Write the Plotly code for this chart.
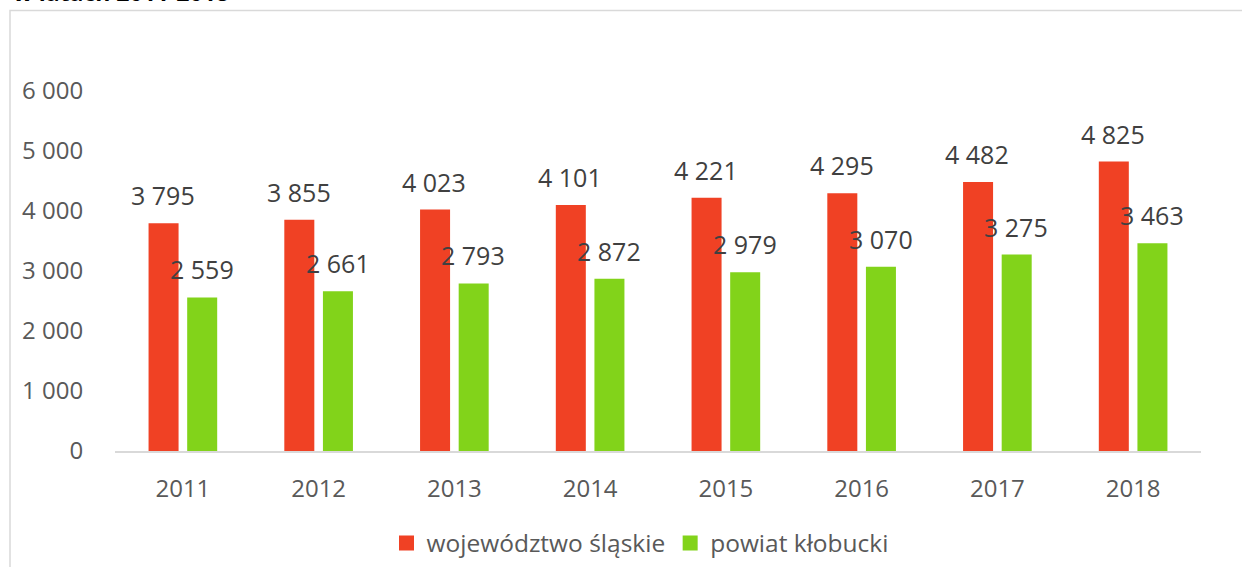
import plotly.graph_objects as go

years = ["2011", "2012", "2013", "2014", "2015", "2016", "2017", "2018"]
slaskie = [3795, 3855, 4023, 4101, 4221, 4295, 4482, 4825]
klobucki = [2559, 2661, 2793, 2872, 2979, 3070, 3275, 3463]
series_names = ["województwo śląskie", "powiat kłobucki"]
tick_vals = [0, 1000, 2000, 3000, 4000, 5000, 6000]
tick_text = ["0", "1 000", "2 000", "3 000", "4 000", "5 000", "6 000"]
title_text = "w latach 2011-2018"

RED = "#F04124"
GREEN = "#82D31A"
FONT = "Open Sans, Lato, sans-serif"

def fmt(v):
    return f"{v:,}".replace(",", " ")

fig = go.Figure()
fig.add_trace(go.Bar(x=years, y=slaskie, name=series_names[0], marker_color=RED,
                     marker_line_width=0, showlegend=False))
fig.add_trace(go.Bar(x=years, y=klobucki, name=series_names[1], marker_color=GREEN,
                     marker_line_width=0, showlegend=False))
# legend entries with square swatches
for name, col in zip(series_names, [RED, GREEN]):
    fig.add_trace(go.Scatter(x=[None], y=[None], mode="markers", name=name,
                             marker=dict(symbol="square", size=15, color=col)))

annotations = []
for i, v in enumerate(slaskie):
    annotations.append(dict(x=i, y=v, xref="x", yref="y", text=fmt(v), showarrow=False,
                            xshift=-20, yshift=28, yanchor="middle",
                            font=dict(family=FONT, size=25, color="#404040")))
for i, v in enumerate(klobucki):
    annotations.append(dict(x=i, y=v, xref="x", yref="y", text=fmt(v), showarrow=False,
                            xshift=19, yshift=28, yanchor="middle",
                            font=dict(family=FONT, size=25, color="#404040")))

W, H = 1242, 567
L, R, T, B = 115, 41, 91, 116
pw = W - L - R
ph = H - T - B

def px_x(p):
    return (p - L) / pw

def px_y(p):
    return (H - B - p) / ph

# title (partially cut off at top)
annotations.append(dict(x=px_x(11), y=px_y(10), xref="paper", yref="paper", text="<b>" + title_text + "</b>",
                        showarrow=False, xanchor="left", yanchor="bottom",
                        font=dict(family=FONT, size=23, color="#000000")))

shapes = [dict(type="rect", xref="paper", yref="paper",
               x0=px_x(10), x1=px_x(1260), y0=px_y(620), y1=px_y(10.5),
               line=dict(color="#D9D9D9", width=1.5), fillcolor="rgba(0,0,0,0)", layer="below")]

fig.update_layout(
    width=W, height=H,
    margin=dict(l=L, r=R, t=T, b=B, pad=0, autoexpand=False),
    plot_bgcolor="white", paper_bgcolor="white",
    barmode="group", bargap=0.431, bargroupgap=0.223,
    showlegend=True,
    legend=dict(orientation="h", x=px_x(640), xanchor="center", y=px_y(543), yanchor="middle",
                font=dict(family=FONT, size=24.5, color="#595959"),
                itemwidth=30, tracegroupgap=0),
    annotations=annotations,
    shapes=shapes,
    font=dict(family=FONT, color="#595959"),
)
fig.update_xaxes(type="category", range=[-0.5, len(years) - 0.5], showgrid=False, showline=True,
                 linecolor="#D9D9D9", linewidth=2,
                 ticks="outside", ticklen=15, tickcolor="rgba(0,0,0,0)",
                 tickfont=dict(family=FONT, size=24, color="#595959"))
fig.update_yaxes(range=[0, 6000], tickvals=tick_vals, ticktext=tick_text,
                 showgrid=False, zeroline=False, showline=False,
                 ticks="outside", ticklen=26, tickcolor="rgba(0,0,0,0)",
                 tickfont=dict(family=FONT, size=24, color="#595959"))

fig.write_html("out.html", config={"displayModeBar": False},
               post_script="document.body.style.margin='0';")
